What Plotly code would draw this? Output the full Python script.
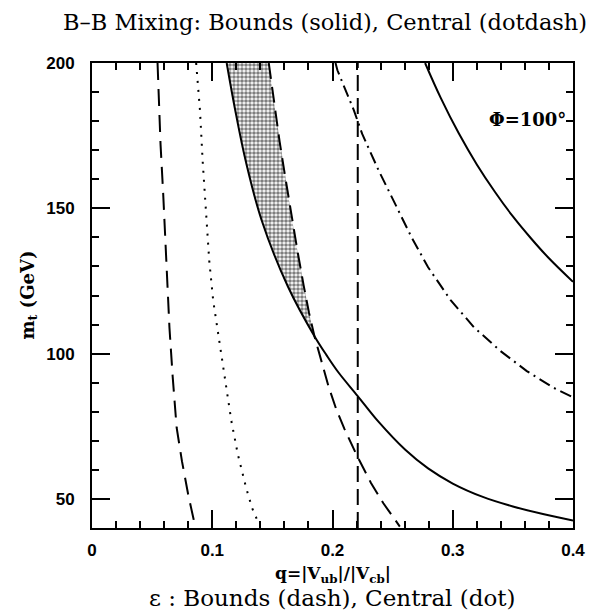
import plotly.graph_objects as go

# ---- data ----
# epsilon lower bound (dashed, left)
epsA_q = [0.0545, 0.0570, 0.0592, 0.0616, 0.0644, 0.0671, 0.0704, 0.0748, 0.0800, 0.0845, 0.0855]
epsA_mt = [200, 172, 155, 132, 109, 92, 74.5, 63, 51.5, 43, 41]

# epsilon central (dotted)
epsC_q = [0.0866, 0.0898, 0.0920, 0.0948, 0.0975, 0.1008, 0.1041, 0.1076, 0.1118, 0.1159, 0.1213, 0.1282, 0.1331, 0.1390]
epsC_mt = [200, 183.7, 166.4, 149.2, 132.0, 118.2, 109.0, 99.8, 88.3, 76.8, 65.3, 53.8, 46.9, 41.2]

# epsilon upper bound (dashed, right; edge of shaded band)
epsB_q = [0.147, 0.1515, 0.156, 0.161, 0.166, 0.171, 0.176, 0.1805, 0.185, 0.1905, 0.1965, 0.203, 0.210, 0.2208, 0.232, 0.2423, 0.2492, 0.256]
epsB_mt = [200, 186, 173, 160, 147, 135, 123.5, 114, 106, 97.5, 89, 81, 74, 64.5, 55.5, 48.5, 44.3, 40.5]

# epsilon bound at fixed q (vertical dashed)
epsV_q = [0.221, 0.221]
epsV_mt = [40, 200]

# B-Bbar mixing lower bound (solid, left)
mixL_q = [0.112, 0.119, 0.128, 0.141, 0.163, 0.185, 0.195, 0.205, 0.2208, 0.2384, 0.2603, 0.2795, 0.300, 0.325, 0.350, 0.375, 0.400]
mixL_mt = [200, 184, 166, 146, 123, 106, 99.5, 93.5, 85.5, 76.5, 67.0, 60.5, 55.3, 50.7, 47.4, 44.8, 42.6]

# B-Bbar mixing central (dot-dash)
mixC_q = [0.2025, 0.2041, 0.2178, 0.2247, 0.2384, 0.2521, 0.2658, 0.2795, 0.2986, 0.3178, 0.3397, 0.3616, 0.3836, 0.400]
mixC_mt = [200, 197.5, 183.7, 175.6, 163.0, 151.5, 140.0, 129.7, 118.2, 109.0, 100.9, 94.0, 88.3, 85.0]

# B-Bbar mixing upper bound (solid, right)
mixU_q = [0.277, 0.290, 0.305, 0.320, 0.335, 0.350, 0.365, 0.380, 0.400]
mixU_mt = [200, 188.0, 175.8, 165.1, 155.7, 147.2, 139.7, 132.8, 124.7]

cross_mt = 106  # where the left solid meets the right dashed curve

# ---- shaded allowed band (between left solid and right dashed, above crossing) ----
band_q = [q for q, m in zip(mixL_q, mixL_mt) if m >= cross_mt]
band_mt = [m for m in mixL_mt if m >= cross_mt]
rq = [q for q, m in zip(epsB_q, epsB_mt) if m >= cross_mt][::-1]
rm = [m for m in epsB_mt if m >= cross_mt][::-1]
band_q = band_q + rq
band_mt = band_mt + rm

fig = go.Figure()
fig.add_trace(go.Scatter(
    x=band_q, y=band_mt, mode="lines", fill="toself",
    line=dict(width=0, color="rgba(0,0,0,0)"),
    fillcolor="rgba(0,0,0,0)",
    fillpattern=dict(shape=".", size=4, solidity=0.65, fgcolor="black", bgcolor="white"),
    hoverinfo="skip", showlegend=False))

black = "black"
fig.add_trace(go.Scatter(x=epsA_q, y=epsA_mt, mode="lines",
                         line=dict(color=black, width=2, dash="17px,9px"), showlegend=False))
fig.add_trace(go.Scatter(x=epsC_q, y=epsC_mt, mode="lines",
                         line=dict(color=black, width=2, dash="2px,7px"), showlegend=False))
fig.add_trace(go.Scatter(x=epsB_q, y=epsB_mt, mode="lines",
                         line=dict(color=black, width=2, dash="16px,8px"), showlegend=False))
fig.add_trace(go.Scatter(x=epsV_q, y=epsV_mt, mode="lines",
                         line=dict(color=black, width=2, dash="16px,7px"), showlegend=False))
fig.add_trace(go.Scatter(x=mixL_q, y=mixL_mt, mode="lines", line_shape="spline",
                         line=dict(color=black, width=2), showlegend=False))
fig.add_trace(go.Scatter(x=mixC_q, y=mixC_mt, mode="lines",
                         line=dict(color=black, width=2, dash="12px,5px,2px,5px"), showlegend=False))
fig.add_trace(go.Scatter(x=mixU_q, y=mixU_mt, mode="lines", line_shape="spline",
                         line=dict(color=black, width=2), showlegend=False))

serif = "DejaVu Serif"
tickfont = dict(family="Liberation Sans", size=17, color=black, weight="bold")

fig.update_xaxes(
    range=[0, 0.4], tick0=0, dtick=0.1,
    showline=True, linecolor=black, linewidth=2, mirror="allticks",
    ticks="inside", ticklen=18, tickwidth=2, tickcolor=black,
    showgrid=False, zeroline=False, tickfont=tickfont, ticklabelstandoff=6,
    minor=dict(dtick=0.02, ticks="inside", ticklen=7, tickwidth=1.5, tickcolor=black, showgrid=False),
)
fig.update_yaxes(
    range=[40, 200], tick0=0, dtick=50,
    showline=True, linecolor=black, linewidth=2, mirror="allticks",
    ticks="inside", ticklen=18, tickwidth=2, tickcolor=black,
    showgrid=False, zeroline=False, tickfont=tickfont, ticksuffix="\u2002\u2009",
    minor=dict(dtick=10, ticks="inside", ticklen=7, tickwidth=1.5, tickcolor=black, showgrid=False),
)

annotations = [
    dict(text="B\u2013B Mixing: Bounds (solid), Central (dotdash)", xref="paper", yref="paper",
         x=0.484, y=1.088, xanchor="center", yanchor="middle", showarrow=False,
         font=dict(family=serif, size=22.5, color=black)),
    dict(text="<b>q=|V<sub>ub</sub>|/|V<sub>cb</sub>|</b>", xref="paper", yref="paper",
         x=0.5, y=-0.100, xanchor="center", yanchor="middle", showarrow=False,
         font=dict(family=serif, size=17, color=black)),
    dict(text="\u03b5 : Bounds (dash), Central (dot)", xref="paper", yref="paper",
         x=0.5, y=-0.150, xanchor="center", yanchor="middle", showarrow=False,
         font=dict(family=serif, size=23, color=black)),
    dict(text="<b>m<sub>t</sub> (GeV)</b>", xref="paper", yref="paper",
         x=-0.133, y=0.5, xanchor="center", yanchor="middle", textangle=-90, showarrow=False,
         font=dict(family=serif, size=18, color=black)),
    dict(text="<b>\u03a6=100\u00b0</b>", xref="paper", yref="y",
         x=0.99, y=180.5, xanchor="right", yanchor="middle", showarrow=False,
         font=dict(family=serif, size=18, color=black)),
]

fig.update_layout(
    width=597, height=616,
    margin=dict(l=92, r=21, t=63, b=88),
    paper_bgcolor="white", plot_bgcolor="white",
    annotations=annotations,
    showlegend=False,
)

# remove the default page margin so the figure sits at the window's top-left corner
fig.write_html("out.html", config={"displayModeBar": False},
               post_script="document.body.style.margin='0px';")
